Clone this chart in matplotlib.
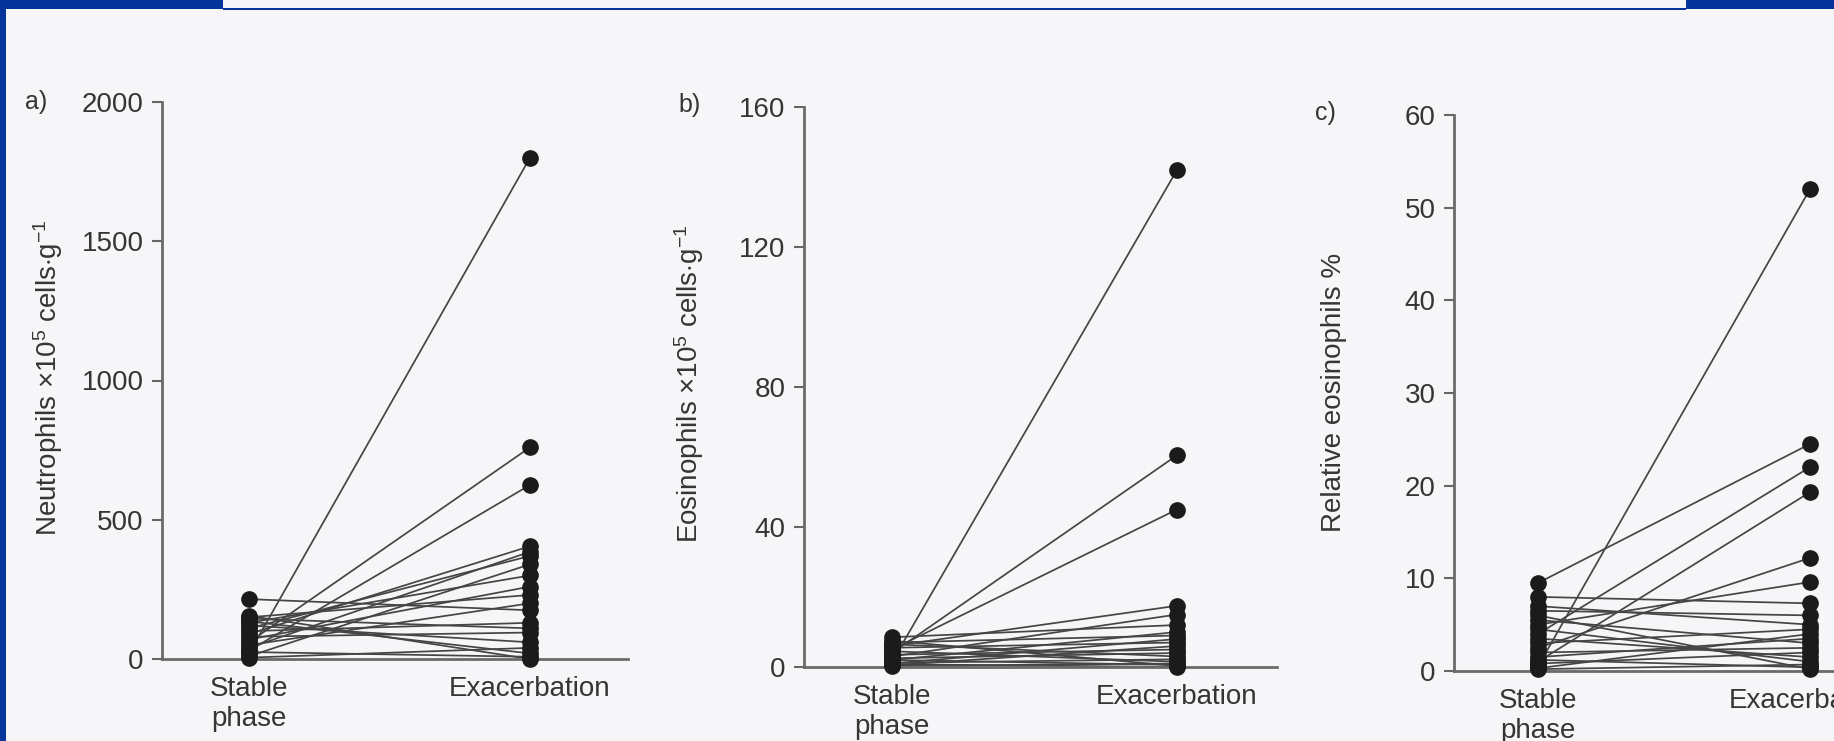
import matplotlib
matplotlib.use('Agg')
import matplotlib.pyplot as plt
from matplotlib.patches import Rectangle

# Paired values per patient: stable phase -> exacerbation
neut_stable = [20, 60, 30, 90, 40, 110, 10, 130, 70, 150, 50, 215, 100, 145, 80, 120, 5, 135, 25, 155]
neut_exac = [1800, 760, 625, 405, 385, 370, 340, 300, 260, 230, 200, 175, 130, 110, 95, 60, 40, 20, 8, 0]

eos_stable = [1.5, 4, 5, 6, 3, 8.5, 2, 7, 1, 5.5, 0.5, 3.5, 2.5, 6.5, 1.2, 4.5, 0.3, 2, 7.5, 0.8]
eos_exac = [142, 60.5, 45, 17.5, 15, 12, 10, 9, 8, 7, 6, 5, 4, 3, 2.2, 1.5, 1, 0.6, 0.3, 0]

rel_stable = [0.5, 9.5, 4, 1, 2.5, 5, 8, 6.5, 7, 3, 0.3, 1.5, 5.5, 2, 0.8, 3.5, 4.5, 0.2, 1.2, 6]
rel_exac = [52, 24.5, 22, 19.3, 12.2, 9.6, 7.3, 6, 5, 4.5, 4, 3.5, 3, 2.5, 2, 1.5, 1, 0.7, 0.4, 0.2]

categories = ['Stable\nphase', 'Exacerbation']

W, H = 1834, 741
BG = '#f6f6f8'
BLUE = '#06349a'
TEXT = '#353535'

plt.rcParams['font.family'] = ['Liberation Sans', 'DejaVu Sans']
plt.rcParams['mathtext.fontset'] = 'custom'
plt.rcParams['mathtext.rm'] = 'Liberation Sans'
plt.rcParams['mathtext.it'] = 'Liberation Sans:italic'

fig = plt.figure(figsize=(W / 100, H / 100), dpi=100, facecolor=BG)


def px_axes(axis_x, stable_x, exac_x, y0, ytop):
    """Axes whose y-axis sits at axis_x, categories at stable_x/exac_x (pixels)."""
    unit = exac_x - stable_x
    xmin, xmax = -0.31, 1.35
    left = stable_x + xmin * unit
    right = stable_x + xmax * unit
    ax = fig.add_axes([left / W, (H - y0) / H, (right - left) / W, (y0 - ytop) / H])
    ax.set_xlim(xmin, xmax)
    ax.set_facecolor('none')
    return ax


def draw_panel(ax, stable, exac, ymax, yticks):
    for s, e in zip(stable, exac):
        ax.plot([0, 1], [s, e], color='#454545', linewidth=1.25, clip_on=False, zorder=2)
        ax.plot([0, 1], [s, e], 'o', color='#1b1b1b', markersize=11, clip_on=False, zorder=3)
    ax.set_ylim(0, ymax)
    ax.set_yticks(yticks)
    ax.set_xticks([0, 1])
    ax.set_xticklabels(categories, fontsize=20, color=TEXT, linespacing=1.2)
    ax.tick_params(axis='x', length=0, pad=12)
    ax.tick_params(axis='y', length=7, width=1.5, color='#666666', labelsize=20,
                   labelcolor=TEXT, pad=6)
    for side in ['top', 'right']:
        ax.spines[side].set_visible(False)
    for side in ['left', 'bottom']:
        ax.spines[side].set_color('#6a6a6a')
        ax.spines[side].set_linewidth(2)


# a) Neutrophils
ax_a = px_axes(163, 249, 530, 659, 102)
draw_panel(ax_a, neut_stable, neut_exac, 2000, [0, 500, 1000, 1500, 2000])
fig.text(25 / W, 1 - 102 / H, 'a)', fontsize=18, color=TEXT, va='center', ha='left')
fig.text(48 / W, 1 - 378 / H, r'Neutrophils $\times$10$^{5}$ cells$\cdot$g$^{-1}$',
         rotation=90, fontsize=20, color=TEXT, ha='center', va='center')

# b) Eosinophils
ax_b = px_axes(808, 892, 1177, 667, 107)
draw_panel(ax_b, eos_stable, eos_exac, 160, [0, 40, 80, 120, 160])
fig.text(678 / W, 1 - 105 / H, 'b)', fontsize=18, color=TEXT, va='center', ha='left')
fig.text(689 / W, 1 - 384 / H, r'Eosinophils $\times$10$^{5}$ cells$\cdot$g$^{-1}$',
         rotation=90, fontsize=20, color=TEXT, ha='center', va='center')

# c) Relative eosinophils
ax_c = px_axes(1449, 1538, 1810, 671, 115)
draw_panel(ax_c, rel_stable, rel_exac, 60, [0, 10, 20, 30, 40, 50, 60])
fig.text(1315 / W, 1 - 113 / H, 'c)', fontsize=18, color=TEXT, va='center', ha='left')
fig.text(1334 / W, 1 - 392 / H, 'Relative eosinophils %',
         rotation=90, fontsize=20, color=TEXT, ha='center', va='center')

# blue slide frame
def blue_rect(x, y, w, h):
    fig.add_artist(Rectangle((x / W, 1 - (y + h) / H), w / W, h / H,
                             transform=fig.transFigure, facecolor=BLUE,
                             edgecolor='none', zorder=10))

blue_rect(0, 0, 6, H)
blue_rect(0, 0, 223, 9)
blue_rect(223, 8, 1463, 1.5)
blue_rect(1686, 0, 148, 9)

fig.savefig('out.png', dpi=100, facecolor=BG)
